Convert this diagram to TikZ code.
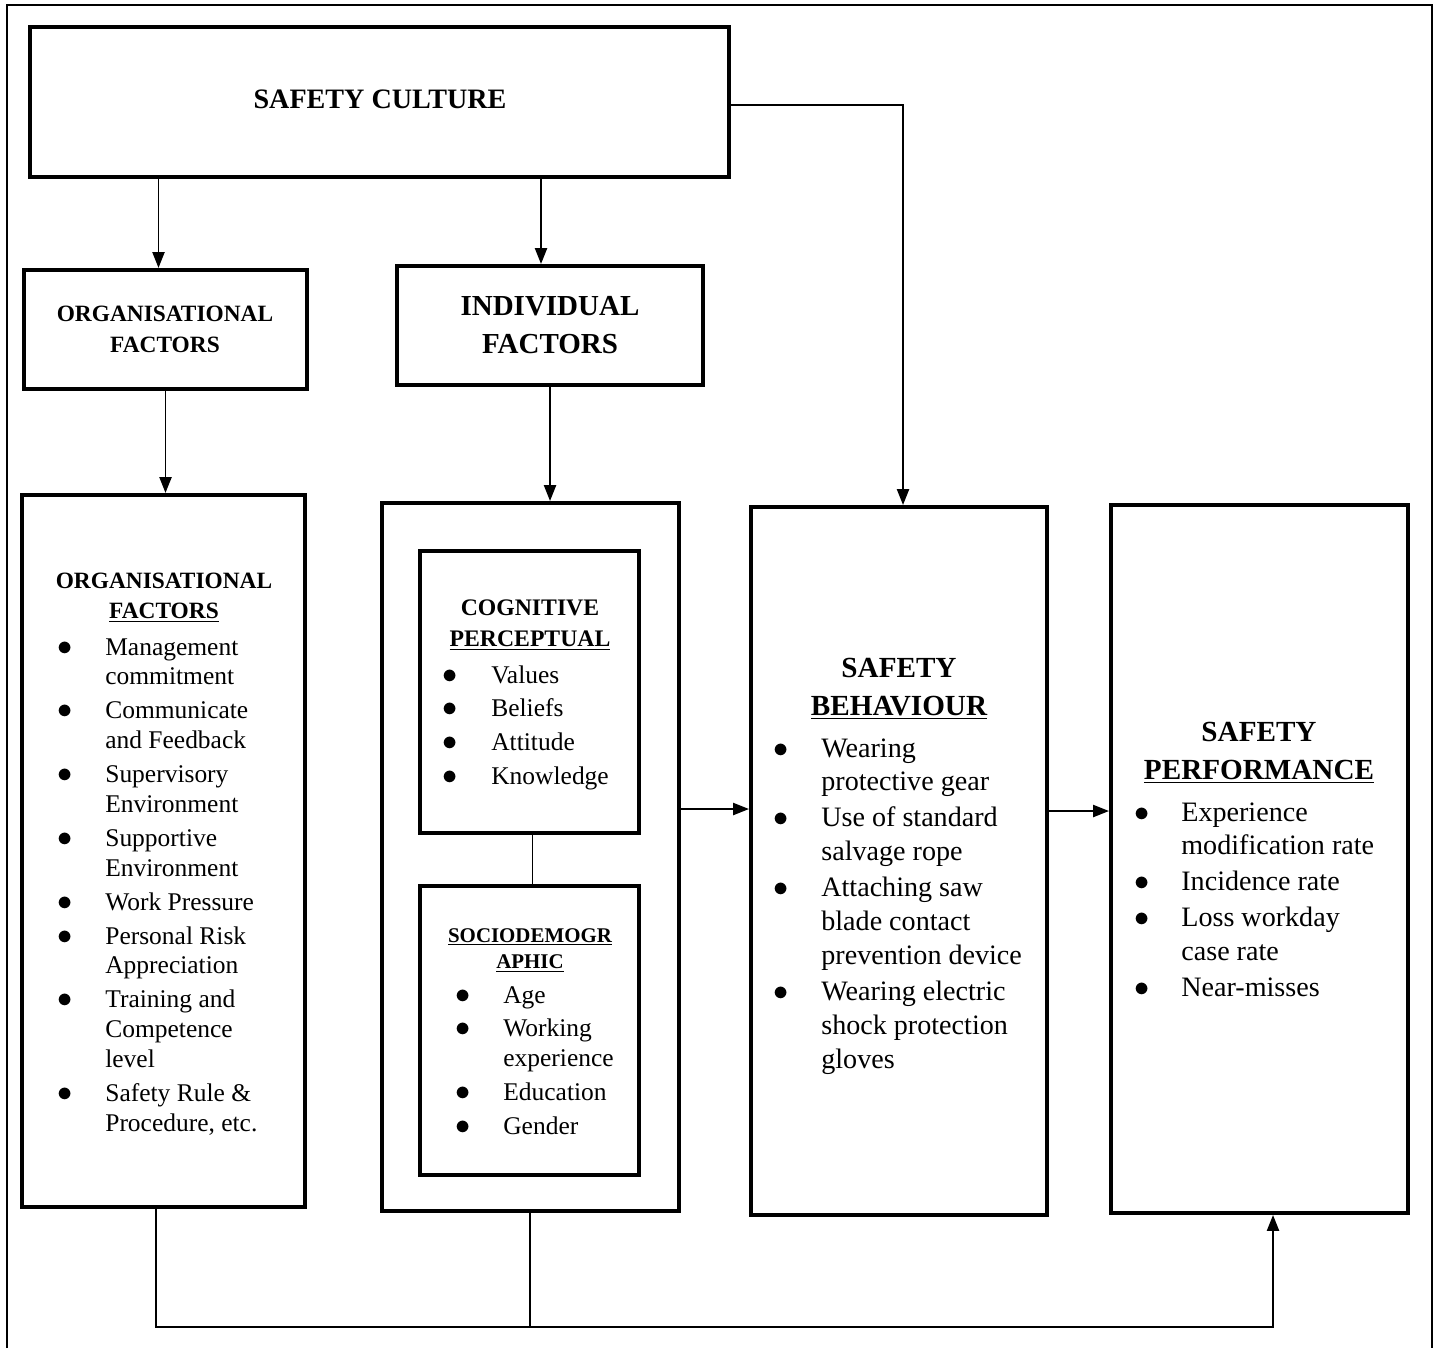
\documentclass[tikz,border=0pt]{standalone}
\usepackage{fontspec}
\setmainfont{Liberation Serif}
\usetikzlibrary{fit,calc,arrows.meta}
\tikzset{
 box/.style={draw, line width=2.4pt, inner sep=0pt, fit={#1}},
 conn/.style={line width=0.7pt},
 arr/.style={conn, -{Triangle[length=9pt,width=7pt]}},
 hdr/.style={anchor=base, inner sep=0pt},
 lst/.style={anchor=base west, inner sep=0pt},
}
\newcommand{\gp}{2.3pt}
\newcommand{\gq}{1.2pt}
\newcommand{\bt}{{\fontsize{17}{0}\selectfont$\bullet$}}
\begin{document}
\begin{tikzpicture}[x=0.02cm,y=-0.02cm]
\useasboundingbox (0,0) rectangle (1439,1348);
\draw[line width=1.4pt] (7,1348) -- (7,5) -- (1432,5) -- (1432,1348);

% boxes
\node[box={(30,27) (729,177)}] (culture) {};
\node[box={(24,270) (307,389)}] (oft) {};
\node[box={(397,266) (703,385)}] (ift) {};
\node[box={(22,495) (305,1207)}] (ofb) {};
\node[box={(382,503) (679,1211)}] (ifb) {};
\node[box={(420,551) (639,833)}] (cog) {};
\node[box={(420,886) (639,1175)}] (soc) {};
\node[box={(751,507) (1047,1215)}] (beh) {};
\node[box={(1111,505) (1408,1213)}] (perf) {};

% headers
\node[hdr, font=\bfseries\fontsize{16}{19}\selectfont] (cultt) at (380,109) {SAFETY CULTURE};
\node[hdr, font=\bfseries\fontsize{13.3}{18}\selectfont] (oftt) at (165,321)
 {\begin{tabular}[t]{@{}c@{}}ORGANISATIONAL\\FACTORS\end{tabular}};
\node[hdr, font=\bfseries\fontsize{16.5}{22}\selectfont] (iftt) at (550,315)
 {\begin{tabular}[t]{@{}c@{}}INDIVIDUAL\\FACTORS\end{tabular}};
\node[hdr, font=\bfseries\fontsize{13.3}{17.6}\selectfont] (ofbt) at (164,588)
 {\begin{tabular}[t]{@{}c@{}}ORGANISATIONAL\\\underline{FACTORS}\end{tabular}};
\node[hdr, font=\bfseries\fontsize{13.5}{18}\selectfont] (cogt) at (530,615)
 {\begin{tabular}[t]{@{}c@{}}COGNITIVE\\\underline{PERCEPTUAL}\end{tabular}};
\node[hdr, font=\bfseries\fontsize{11.9}{15.3}\selectfont] (soct) at (530,942)
 {\begin{tabular}[t]{@{}c@{}}\underline{SOCIODEMOGR}\\\underline{APHIC}\end{tabular}};
\node[hdr, font=\bfseries\fontsize{16.6}{22}\selectfont] (beht) at (899,677)
 {\begin{tabular}[t]{@{}c@{}}SAFETY\\\underline{BEHAVIOUR}\end{tabular}};
\node[hdr, font=\bfseries\fontsize{16.6}{22}\selectfont] (perft) at (1259,741)
 {\begin{tabular}[t]{@{}c@{}}SAFETY\\\underline{PERFORMANCE}\end{tabular}};

% lists
\node[lst, font=\fontsize{14.5}{17}\selectfont] (ofl) at (57,655)
 {\begin{tabular}[t]{@{}p{0.96cm}@{}l@{}}
 \bt & Management\\
  & commitment\\[\gp]
 \bt & Communicate\\
  & and Feedback\\[\gp]
 \bt & Supervisory\\
  & Environment\\[\gp]
 \bt & Supportive\\
  & Environment\\[\gp]
 \bt & Work Pressure\\[\gp]
 \bt & Personal Risk\\
  & Appreciation\\[\gp]
 \bt & Training and\\
  & Competence\\
  & level\\[\gp]
 \bt & Safety Rule \&\\
  & Procedure, etc.
 \end{tabular}};
\node[lst, font=\fontsize{14.5}{17}\selectfont] (cogl) at (442,683)
 {\begin{tabular}[t]{@{}p{0.98cm}@{}l@{}}
 \bt & Values\\[\gp]
 \bt & Beliefs\\[\gp]
 \bt & Attitude\\[\gp]
 \bt & Knowledge
 \end{tabular}};
\node[lst, font=\fontsize{14.5}{17}\selectfont] (socl) at (455,1003)
 {\begin{tabular}[t]{@{}p{0.96cm}@{}l@{}}
 \bt & Age\\[\gp]
 \bt & Working\\
  & experience\\[\gp]
 \bt & Education\\[\gp]
 \bt & Gender
 \end{tabular}};
\node[lst, font=\fontsize{16}{19.3}\selectfont] (behl) at (773,757)
 {\begin{tabular}[t]{@{}p{0.96cm}@{}l@{}}
 \bt & Wearing\\
  & protective gear\\[\gq]
 \bt & Use of standard\\
  & salvage rope\\[\gq]
 \bt & Attaching saw\\
  & blade contact\\
  & prevention device\\[\gq]
 \bt & Wearing electric\\
  & shock protection\\
  & gloves
 \end{tabular}};
\node[lst, font=\fontsize{16}{19.3}\selectfont] (perfl) at (1134,821)
 {\begin{tabular}[t]{@{}p{0.94cm}@{}l@{}}
 \bt & Experience\\
  & modification rate\\[\gq]
 \bt & Incidence rate\\[\gq]
 \bt & Loss workday\\
  & case rate\\[\gq]
 \bt & Near-misses
 \end{tabular}};

% connectors
\coordinate (c1) at ($(oft.north)+(-7,0)$);
\draw[arr] (c1 |- culture.south) -- (c1);
\coordinate (c2) at ($(ift.north)+(-9,0)$);
\draw[arr] (c2 |- culture.south) -- (c2);
\coordinate (c3) at ($(beh.north)+(4,0)$);
\coordinate (c0) at ($(culture.east)+(0,3)$);
\draw[arr] (c0) -| (c3);
\draw[arr] (oft.south) -- (oft.south |- ofb.north);
\draw[arr] (ift.south) -- (ift.south |- ifb.north);
\coordinate (c4) at ($(cog.south)+(3,0)$);
\draw[conn] (c4) -- (c4 |- soc.north);
\coordinate (m1) at ($(ifb.east)+(0,-48)$);
\draw[arr] (m1) -- (m1 -| beh.west);
\coordinate (m2) at ($(beh.east)+(0,-50)$);
\draw[arr] (m2) -- (m2 -| perf.west);
\coordinate (yb) at (0,1327);
\coordinate (b1) at ($(ofb.south)+(-7.5,0)$);
\coordinate (b2) at ($(ifb.south)+(-0.5,0)$);
\coordinate (b3) at ($(perf.south)+(13.5,0)$);
\draw[arr] (b1) -- (b1 |- yb) -| (b3);
\draw[conn] (b2) -- (b2 |- yb);
\end{tikzpicture}
\end{document}
